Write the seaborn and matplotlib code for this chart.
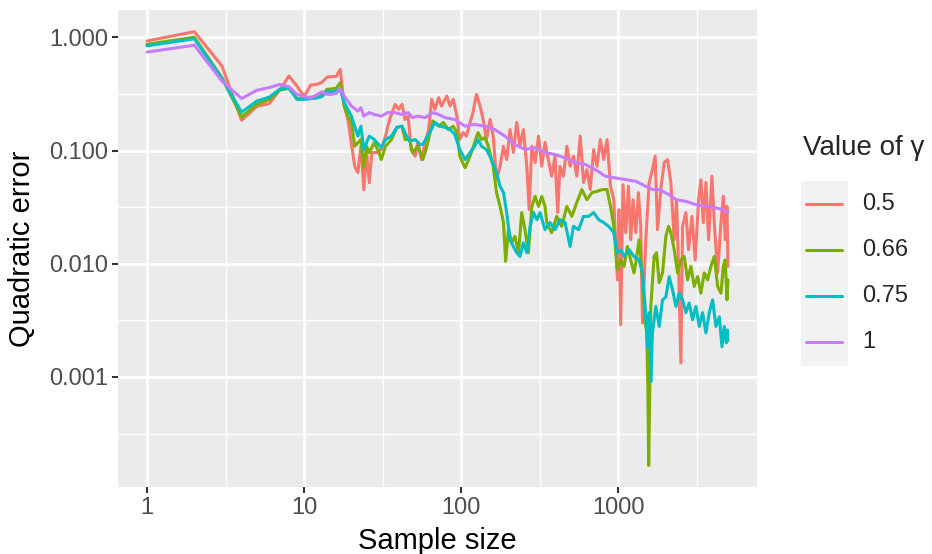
import numpy as np
import pandas as pd
import matplotlib
matplotlib.use("Agg")
import matplotlib.pyplot as plt
from matplotlib.lines import Line2D
from matplotlib.patches import Rectangle
from matplotlib.ticker import FixedLocator, NullFormatter
import seaborn as sns

# ---- data -----------------------------------------------------------------
gamma_levels = ["0.5", "0.66", "0.75", "1"]
palette = ["#F8766D", "#7CAE00", "#00BFC4", "#C77CFF"]

x_ticks = [1, 10, 100, 1000]
x_tick_labels = ["1", "10", "100", "1000"]
y_ticks = [1, 0.1, 0.01, 0.001]
y_tick_labels = ["1.000", "0.100", "0.010", "0.001"]

n_early = list(range(1, 18))

# gamma = 0.5
n_05 = n_early + [
    18, 19, 21, 22, 23, 24, 25, 26, 27, 29, 31, 33, 35, 38, 40, 42, 44, 46, 48,
    51, 53, 56, 59, 62, 65, 68, 72, 75, 81, 85, 89, 94, 98, 103, 108, 114, 119,
    125, 132, 138, 145, 153, 160, 168, 177, 186, 195, 205, 215, 226, 237, 249,
    262, 271, 282, 296, 311, 326, 342, 359, 377, 396, 412, 426, 448, 471, 494,
    519, 545, 573, 602, 632, 664, 698, 733, 770, 809, 850, 893, 938, 961, 990,
    1010, 1037, 1073, 1117, 1162, 1202, 1244, 1294, 1346, 1392, 1428, 1499,
    1575, 1653, 1720, 1780, 1869, 1963, 2062, 2165, 2274, 2353, 2420, 2508,
    2570, 2699, 2806, 2948, 3096, 3250, 3363, 3482, 3620, 3765, 3954, 4092,
    4297, 4513, 4670, 4800, 4930, 5000]
err_05 = [
    0.927, 1.12, 0.557, 0.185, 0.245, 0.26, 0.342, 0.455, 0.37, 0.30, 0.378,
    0.383, 0.40, 0.445, 0.45, 0.45, 0.52,
    0.25, 0.188, 0.0726, 0.0638, 0.109, 0.045, 0.096, 0.052, 0.096, 0.096,
    0.102, 0.134, 0.188, 0.255, 0.231, 0.255, 0.188, 0.201, 0.102,
    0.089, 0.118, 0.083, 0.118, 0.153, 0.283, 0.231, 0.293, 0.247, 0.303,
    0.247, 0.283, 0.201, 0.125, 0.144, 0.134, 0.177, 0.216,
    0.313, 0.247, 0.188, 0.125, 0.188, 0.134, 0.0553, 0.0726, 0.109, 0.0832,
    0.153, 0.096, 0.177, 0.109, 0.153,
    0.0726, 0.0301, 0.109, 0.0783, 0.134, 0.0726, 0.118, 0.0832, 0.0593,
    0.0891, 0.0283, 0.0726, 0.0593, 0.109, 0.0726,
    0.0891, 0.0593, 0.134, 0.0521, 0.0679, 0.0452, 0.102, 0.0726, 0.125,
    0.0832, 0.125, 0.0483, 0.0368, 0.0163, 0.0072,
    0.030, 0.0029, 0.050, 0.0188, 0.0483, 0.0163, 0.0368, 0.0188, 0.0425,
    0.0214, 0.0030, 0.0163,
    0.0521, 0.0679, 0.0891, 0.0200, 0.0452, 0.0783, 0.0832, 0.0521, 0.0163,
    0.0368, 0.0100, 0.00133,
    0.0214, 0.0283, 0.0133, 0.0262, 0.0108, 0.0368, 0.0553, 0.0231, 0.0521,
    0.0163, 0.0593, 0.0231,
    0.0083, 0.0231, 0.0394, 0.0163, 0.0321, 0.0095]

# gamma = 0.66
n_066 = n_early + [
    18, 19, 20, 21, 23, 24, 25, 26, 28, 30, 31, 33, 36, 39, 42, 44, 47, 49, 53,
    57, 59, 62, 66, 72, 77, 83, 89, 94, 98, 106, 114, 122, 128, 135, 142, 149,
    160, 168, 177, 186, 192, 200, 210, 220, 232, 243, 255, 268, 282, 296, 311,
    326, 342, 351, 377, 406, 437, 471, 507, 545, 587, 632, 681, 733, 789, 850,
    893, 938, 985, 1037, 1090, 1143, 1202, 1260, 1294, 1359, 1428, 1484, 1520,
    1545, 1564, 1590, 1614, 1694, 1754, 1824, 1916, 2012, 2093, 2165, 2274,
    2388, 2508, 2633, 2766, 2904, 3050, 3203, 3363, 3532, 3710, 3896, 4092,
    4297, 4513, 4670, 4800, 4930, 5000]
err_066 = [
    0.867, 1.0, 0.44, 0.198, 0.255, 0.283, 0.342, 0.354, 0.288, 0.288, 0.296,
    0.30, 0.31, 0.347, 0.35, 0.355, 0.397,
    0.247, 0.20, 0.177, 0.109, 0.125, 0.0708, 0.109, 0.096, 0.118, 0.096,
    0.0832, 0.109, 0.125, 0.160, 0.164, 0.125, 0.125, 0.096, 0.109,
    0.0832, 0.096, 0.125, 0.182, 0.164, 0.177, 0.153, 0.164, 0.144, 0.0891,
    0.0703, 0.0891, 0.118, 0.144, 0.125, 0.130, 0.109,
    0.0726, 0.0425, 0.0321, 0.0231, 0.0105, 0.0200, 0.0153, 0.0175, 0.0125,
    0.0283, 0.0200, 0.0125, 0.0321, 0.0394, 0.0321,
    0.0394, 0.0321, 0.0231, 0.0188, 0.0262, 0.0214, 0.0321, 0.0262, 0.0347,
    0.0452, 0.0368, 0.0425, 0.0436, 0.0452, 0.0452,
    0.0321, 0.0214, 0.00885, 0.0108, 0.00946, 0.0142, 0.0108, 0.0083, 0.0102,
    0.0163, 0.0072, 0.0030, 0.0025,
    0.0008, 0.000166, 0.0008, 0.0042, 0.0116, 0.0125, 0.0068, 0.0083, 0.0175,
    0.0214, 0.0188, 0.0133,
    0.0083, 0.0108, 0.0116, 0.0072, 0.0095, 0.0063, 0.0077, 0.0055, 0.0083,
    0.0072, 0.0095, 0.0116,
    0.0063, 0.0055, 0.0095, 0.0108, 0.0048, 0.0072]

# gamma = 0.75
n_075 = n_early + [
    18, 20, 22, 23, 24, 26, 28, 31, 33, 36, 39, 42, 45, 47, 51, 55, 57, 63, 68,
    73, 79, 85, 91, 98, 106, 114, 122, 128, 135, 145, 156, 168, 177, 186, 195,
    205, 215, 226, 237, 249, 262, 275, 289, 303, 318, 342, 368, 396, 426, 459,
    494, 519, 559, 602, 648, 698, 751, 809, 871, 938, 985, 1037, 1090, 1175,
    1260, 1359, 1428, 1484, 1537, 1575, 1614, 1653, 1737, 1824, 1916, 2012,
    2113, 2219, 2330, 2447, 2570, 2699, 2834, 2976, 3125, 3282, 3447, 3620,
    3802, 3993, 4193, 4404, 4580, 4740, 4880, 4960, 5000]
err_075 = [
    0.84, 0.97, 0.43, 0.218, 0.273, 0.296, 0.347, 0.36, 0.283, 0.283, 0.287,
    0.29, 0.30, 0.335, 0.33, 0.335, 0.35,
    0.266, 0.201, 0.134, 0.164, 0.102, 0.134, 0.125, 0.106, 0.125, 0.134,
    0.160, 0.164, 0.134, 0.121, 0.125, 0.113, 0.113, 0.144, 0.177,
    0.164, 0.160, 0.153, 0.139, 0.102, 0.0832, 0.096, 0.109, 0.125, 0.109,
    0.102, 0.0832, 0.0638, 0.0483, 0.0425, 0.0283,
    0.0163, 0.0142, 0.0125, 0.0116, 0.0153, 0.0125, 0.0214, 0.0283, 0.0245,
    0.0283, 0.0200, 0.0231, 0.0200, 0.0245, 0.0231,
    0.0142, 0.0214, 0.0200, 0.0262, 0.0262, 0.0283, 0.0245, 0.0231, 0.0214,
    0.0188, 0.0125, 0.0133, 0.0116, 0.0133,
    0.0116, 0.0108, 0.0083, 0.0042, 0.00185, 0.0037, 0.00091, 0.00245, 0.0042,
    0.0028, 0.0048, 0.0051,
    0.0077, 0.0059, 0.0042, 0.0055, 0.0048, 0.0037, 0.0045, 0.0032, 0.0042,
    0.0028, 0.0037, 0.00245,
    0.0037, 0.0048, 0.0028, 0.0034, 0.00185, 0.0028, 0.0020, 0.0026, 0.0021]

# gamma = 1
n_1 = n_early + [
    18, 20, 22, 23, 24, 26, 28, 31, 34, 38, 42, 46, 49, 53, 59, 66, 72, 79, 91,
    106, 122, 142, 164, 190, 220, 255, 296, 342, 396, 459, 532, 617, 715, 829,
    961, 1117, 1294, 1499, 1653, 1824, 2113, 2330, 2699, 3125, 3620, 4193,
    4625, 5000]
err_1 = [
    0.74, 0.85, 0.41, 0.288, 0.34, 0.36, 0.383, 0.366, 0.313, 0.30, 0.29,
    0.31, 0.33, 0.313, 0.313, 0.32, 0.35,
    0.303, 0.247, 0.223, 0.239, 0.201, 0.216, 0.208, 0.201, 0.216, 0.216,
    0.208, 0.216, 0.195, 0.201, 0.195, 0.216, 0.208, 0.195, 0.188,
    0.164, 0.170, 0.164, 0.153, 0.134, 0.113, 0.102, 0.106, 0.096, 0.0922,
    0.0861, 0.0783, 0.0752, 0.0679, 0.0593,
    0.0573, 0.0553, 0.0535, 0.0483, 0.0452, 0.0452, 0.0408, 0.0368, 0.0356,
    0.0333, 0.0321, 0.0311, 0.0301, 0.0284]

frames = []
for lvl, n, e in zip(gamma_levels, [n_05, n_066, n_075, n_1],
                     [err_05, err_066, err_075, err_1]):
    frames.append(pd.DataFrame({"n": n, "err": e, "gamma": lvl}))
df = pd.concat(frames, ignore_index=True)

# ---- figure ---------------------------------------------------------------
sns.set_theme(style="darkgrid")
plt.rcParams["font.family"] = ["Liberation Sans", "DejaVu Sans"]

W, H = 932, 554
fig = plt.figure(figsize=(W / 100, H / 100), dpi=100)
fig.patch.set_facecolor("white")


def fx(px):
    return px / W


def fy(py):
    return 1 - py / H


p_left, p_right, p_top, p_bottom = 118, 757, 10, 487
ax = fig.add_axes([fx(p_left), fy(p_bottom), fx(p_right - p_left),
                   (p_bottom - p_top) / H])
ax.set_facecolor("#EBEBEB")
ax.set_xscale("log")
ax.set_yscale("log")

sns.lineplot(data=df, x="n", y="err", hue="gamma", hue_order=gamma_levels,
             palette=palette, estimator=None, errorbar=None, linewidth=2.2,
             legend=False, ax=ax)

# limits: 5% padding on log scale
lx = np.log10([df["n"].min(), df["n"].max()])
ly = np.log10([df["err"].min(), df["err"].max()])
px_ = 0.05 * (lx[1] - lx[0])
py_ = 0.05 * (ly[1] - ly[0])
ax.set_xlim(10 ** (lx[0] - px_), 10 ** (lx[1] + px_))
ax.set_ylim(10 ** (ly[0] - py_), 10 ** (ly[1] + py_))

ax.xaxis.set_major_locator(FixedLocator(x_ticks))
ax.set_xticklabels(x_tick_labels)
ax.yaxis.set_major_locator(FixedLocator(y_ticks))
ax.set_yticklabels(y_tick_labels)
ax.xaxis.set_minor_locator(FixedLocator([10 ** (k + 0.5) for k in range(-1, 4)]))
ax.yaxis.set_minor_locator(FixedLocator([10 ** (k - 0.5) for k in range(-4, 1)]))
ax.xaxis.set_minor_formatter(NullFormatter())
ax.yaxis.set_minor_formatter(NullFormatter())

ax.grid(True, which="major", color="white", linewidth=1.9)
ax.grid(True, which="minor", color="white", linewidth=0.95)
ax.set_axisbelow(True)
for s in ax.spines.values():
    s.set_visible(False)

ax.tick_params(which="major", direction="out", length=4, width=1.5,
               color="#333333", labelsize=17, labelcolor="#4D4D4D", pad=3,
               bottom=True, left=True)
ax.tick_params(which="minor", length=0)

ax.set_xlabel("Sample size", fontsize=21, color="black")
ax.xaxis.set_label_coords(0.5, -(541 - p_bottom) / (p_bottom - p_top))
ax.xaxis.label.set_va("center")
ax.set_ylabel("Quadratic error", fontsize=21, color="black")
ax.yaxis.set_label_coords(-(p_left - 22) / (p_right - p_left), 0.5)
ax.yaxis.label.set_va("center")

# ---- legend ---------------------------------------------------------------
fig.text(fx(803), fy(148), "Value of γ", fontsize=20, ha="left", va="center")
fig.patches.append(Rectangle((fx(801), fy(366)), fx(47), 185 / H,
                             transform=fig.transFigure, facecolor="#F2F2F2",
                             edgecolor="none", zorder=1))
for i, (lvl, col) in enumerate(zip(gamma_levels, palette)):
    ky = 204 + 46 * i
    fig.add_artist(Line2D([fx(806), fx(842)], [fy(ky), fy(ky)],
                          transform=fig.transFigure, color=col, linewidth=2.2,
                          zorder=2))
    fig.text(fx(862), fy(ky), lvl, fontsize=17, ha="left", va="center")

fig.savefig("out.png", dpi=100)
